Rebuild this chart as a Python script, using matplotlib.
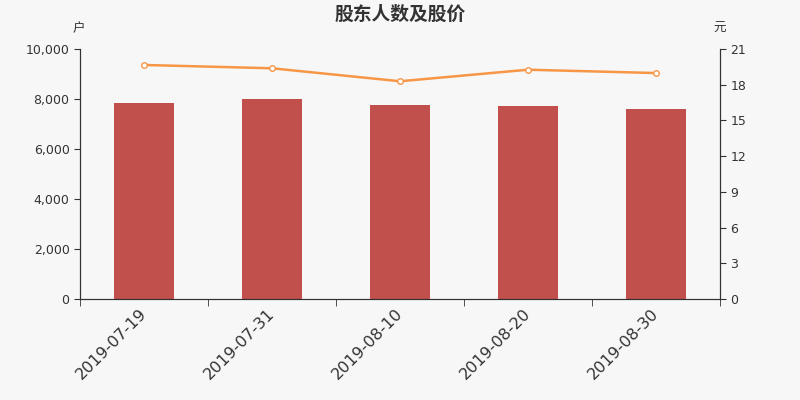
import matplotlib
matplotlib.use("Agg")
import matplotlib.pyplot as plt
import matplotlib.transforms as mtransforms
import numpy as np

plt.rcParams['font.family'] = ['DejaVu Sans', 'Noto Sans CJK SC']

dates = ["2019-07-19", "2019-07-31", "2019-08-10", "2019-08-20", "2019-08-30"]
holders = [7860, 7990, 7770, 7720, 7600]
prices = [19.66, 19.38, 18.29, 19.26, 18.98]
left_ticks = [0, 2000, 4000, 6000, 8000, 10000]
right_ticks = [0, 3, 6, 9, 12, 15, 18, 21]

bg = "#f7f7f7"
fig = plt.figure(figsize=(8, 4), dpi=100, facecolor=bg)
ax = fig.add_axes([0.1, 0.2525, 0.8, 0.625], facecolor=bg)
x = np.arange(len(dates))
ax.bar(x, holders, width=0.47, color="#c1504d", zorder=2)
ax.set_xlim(-0.5, len(dates) - 0.5)
ax.set_ylim(0, 10000)
ax.set_yticks(left_ticks)
ax.set_yticklabels([f"{v:,}" for v in left_ticks], fontsize=9, color="#333333")
ax.set_xticks(x)
ax.set_xticklabels(dates, rotation=45, ha="right", va="top", rotation_mode="anchor",
                   fontsize=11.5, color="#333333")
ax.tick_params(axis="x", length=0, pad=5)
offset = mtransforms.ScaledTranslation(-5 / 100, 0, fig.dpi_scale_trans)
for lab in ax.get_xticklabels():
    lab.set_transform(lab.get_transform() + offset)
ax.set_xticks(np.arange(-0.5, len(dates), 1.0), minor=True)
ax.tick_params(axis="x", which="minor", length=5, color="#333333")
ax.tick_params(axis="y", length=4, color="#333333")
ax.spines["top"].set_visible(False)
for s in ["left", "bottom", "right"]:
    ax.spines[s].set_color("#333333")

ax2 = ax.twinx()
ax2.plot(x, prices, color="#f79646", lw=1.8, marker="o", markersize=4,
         markerfacecolor="white", markeredgecolor="#f79646", markeredgewidth=1, zorder=3)
ax2.set_ylim(0, 21)
ax2.set_yticks(right_ticks)
ax2.set_yticklabels([str(v) for v in right_ticks], fontsize=9, color="#333333")
ax2.tick_params(axis="y", length=4, color="#333333")
ax2.spines["top"].set_visible(False)
for s in ["left", "bottom", "right"]:
    ax2.spines[s].set_color("#333333")

fig.text(0.5, 0.965, "股东人数及股价", ha="center", va="center", fontsize=13.5,
         fontweight="bold", color="#333333", family=["Noto Sans CJK SC"])
fig.text(0.099, 0.928, "户", ha="center", va="center", fontsize=9, color="#333333",
         family=["Noto Sans CJK SC"])
fig.text(0.899, 0.928, "元", ha="center", va="center", fontsize=9, color="#333333",
         family=["Noto Sans CJK SC"])

fig.savefig("out.png", dpi=100, facecolor=bg)
